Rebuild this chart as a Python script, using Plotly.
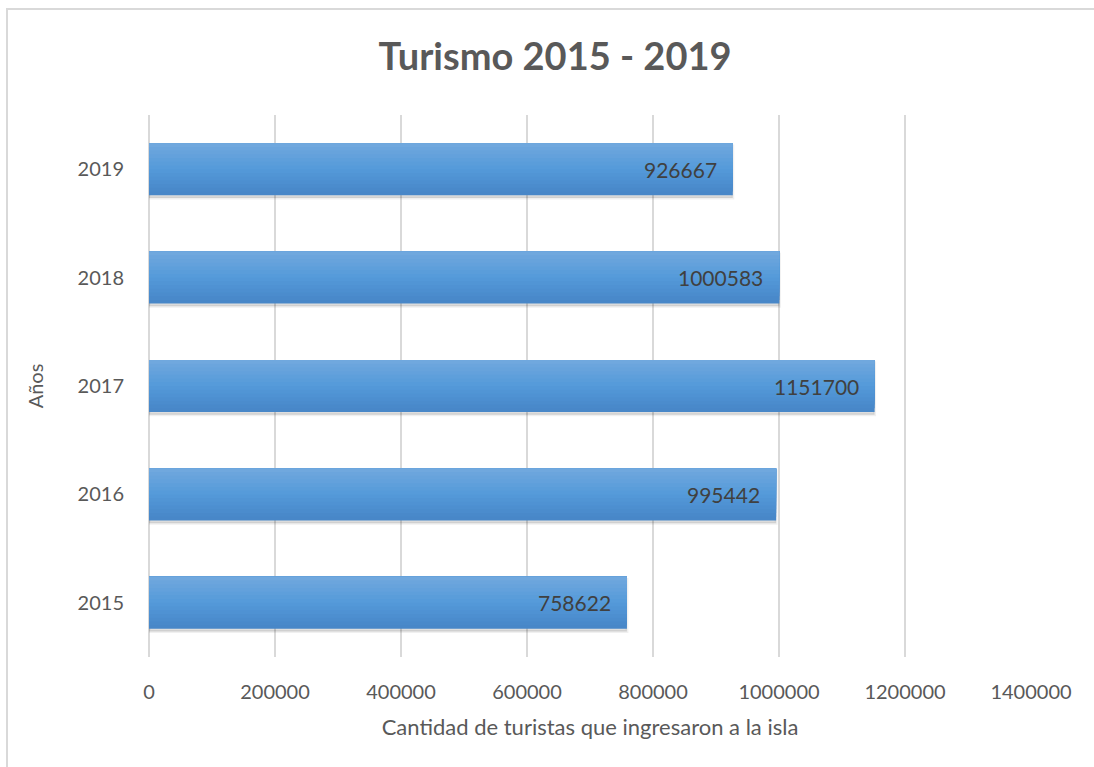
import plotly.graph_objects as go

years = ["2015", "2016", "2017", "2018", "2019"]
tourists = [758622, 995442, 1151700, 1000583, 926667]
x_ticks = [0, 200000, 400000, 600000, 800000, 1000000, 1200000, 1400000]

W, H = 1094, 767
L, R, T, B = 149, 63, 115, 110
pw, ph = W - L - R, H - T - B

fig = go.Figure()

bar_w = 0.48
# soft shadow under the bars
fig.add_trace(go.Bar(
    y=years, x=tourists, orientation="h",
    marker=dict(color="rgba(0,0,0,0.13)", line=dict(width=3, color="rgba(0,0,0,0.06)")),
    width=bar_w, offset=-bar_w / 2 - 0.025, hoverinfo="skip", showlegend=False,
))

# gradient bars (dark bottom -> light top), built as overlaid layers
n = 14
c_bot = (72, 135, 200)
c_mid = (84, 154, 218)
c_top = (112, 168, 222)
for k in range(n):
    f = k / (n - 1)
    if f < 0.5:
        g = f / 0.5
        c = tuple(int(c_bot[i] + (c_mid[i] - c_bot[i]) * g) for i in range(3))
    else:
        g = (f - 0.5) / 0.5
        c = tuple(int(c_mid[i] + (c_top[i] - c_mid[i]) * g) for i in range(3))
    off = -bar_w / 2 + k * bar_w / n
    wdt = bar_w - k * bar_w / n
    fig.add_trace(go.Bar(
        y=years, x=tourists, orientation="h",
        marker=dict(color="rgb(%d,%d,%d)" % c, line=dict(width=0)),
        width=wdt, offset=off, hoverinfo="skip", showlegend=False,
    ))

for i, v in enumerate(tourists):
    fig.add_annotation(x=v, y=i, text=str(v), showarrow=False,
                       xanchor="right", xshift=-14,
                       font=dict(family="Lato", size=21, color="#404040"))

fig.update_layout(
    width=W, height=H,
    margin=dict(l=L, r=R, t=T, b=B, autoexpand=False),
    paper_bgcolor="white", plot_bgcolor="white",
    barmode="overlay",
    title=dict(text="<b>Turismo 2015 - 2019</b>", x=555 / W, xanchor="center",
               y=1 - 57 / H, yanchor="middle",
               font=dict(family="Lato", size=38, color="#595959")),
    font=dict(family="Lato", color="#595959"),
    xaxis=dict(range=[0, 1400000], tickvals=x_ticks, ticktext=[str(t) for t in x_ticks],
               showgrid=True, gridcolor="#d9d9d9", gridwidth=1.5,
               zeroline=True, zerolinecolor="#d9d9d9", zerolinewidth=1.5,
               showline=False, ticks="", ticklabelstandoff=21,
               tickfont=dict(family="Lato", size=20, color="#595959"),
               title=dict(text="Cantidad de turistas que ingresaron a la isla", standoff=17,
                          font=dict(family="Lato", size=22, color="#595959")),
               fixedrange=True),
    yaxis=dict(type="category", categoryorder="array", categoryarray=years,
               range=[-0.5, len(years) - 0.5],
               showgrid=False, zeroline=False, showline=False, ticks="",
               ticklabelstandoff=24,
               tickfont=dict(family="Lato", size=20, color="#595959"),
               title=dict(text="Años", standoff=28,
                          font=dict(family="Lato", size=20, color="#595959")),
               fixedrange=True),
    shapes=[dict(type="rect", xref="paper", yref="paper",
                 x0=(7 - L) / pw, x1=(W + 10 - L) / pw,
                 y0=(H - B - (H + 10)) / ph, y1=(H - B - 9) / ph,
                 line=dict(color="#d9d9d9", width=2), layer="below")],
)

fig.write_html("out.html")
